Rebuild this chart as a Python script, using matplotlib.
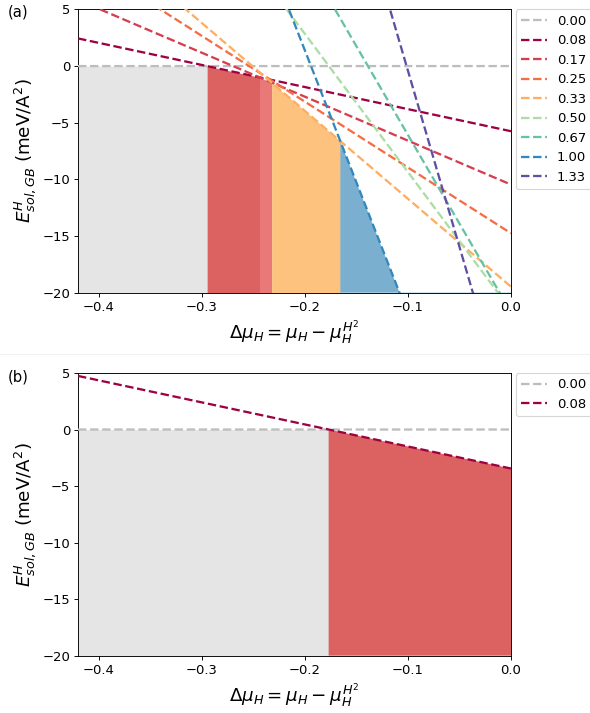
import matplotlib
matplotlib.use('Agg')
import matplotlib.pyplot as plt
import numpy as np

# coverage labels and line parameters E = intercept + slope * dmu
coverage = ['0.00', '0.08', '0.17', '0.25', '0.33', '0.50', '0.67', '1.00', '1.33']
intercept_a = [0.0, -5.75, -10.46, -14.76, -19.47, -21.55, -21.73, -45.2, -31.5]
slope_a = [0.0, -19.5, -38.8, -58.1, -77.6, -122.0, -156.6, -233.0, -311.0]

coverage_b = ['0.00', '0.08']
intercept_b = [0.0, -3.45]
slope_b = [0.0, -19.5]

line_colors = ['#bdbdbd', '#9e0142', '#d53e4f', '#f46d43', '#fdae61',
               '#abdda4', '#66c2a5', '#3288bd', '#5e4fa2']
fill_colors = ['#e5e5e5', '#dc6161', '#eb7878', '#f89a7a', '#fdc27d',
               '#cdebc8', '#a3dac9', '#7aafd0', '#9e95c7']

xmin, xmax = -0.42, 0.0
ymin, ymax = -20, 5


def panel(ax, labels, b, s):
    x = np.linspace(xmin, xmax, 3000)
    E = np.array([bi + si * x for bi, si in zip(b, s)])
    idx = E.argmin(axis=0)
    env = E.min(axis=0)
    for i, lab in enumerate(labels):
        mask = idx == i
        if not mask.any():
            continue
        mask = mask | np.roll(mask, 1)
        ax.fill_between(x, ymin, env, where=mask, color=fill_colors[i], lw=0, zorder=1)
    for i, lab in enumerate(labels):
        ax.plot(x, E[i], '--', color=line_colors[i], lw=2, label=lab, zorder=3)
    ax.set_xlim(xmin, xmax)
    ax.set_ylim(ymin, ymax)
    ax.set_xticks([-0.4, -0.3, -0.2, -0.1, 0.0])
    ax.set_yticks([5, 0, -5, -10, -15, -20])
    ax.tick_params(labelsize=11.5)
    ax.set_xlabel(r'$\Delta\mu_H = \mu_H - \mu_H^{H^2}$', fontsize=16)
    ax.set_ylabel(r'$E^{H}_{sol,GB}$ (meV/A$^2$)', fontsize=16)
    ax.legend(loc='upper left', bbox_to_anchor=(1.0107, 1.0), borderaxespad=0,
              fontsize=11.5, handletextpad=0.75)


dpi = 82
fig = plt.figure(figsize=(590 / dpi, 713 / dpi), dpi=dpi)
ax1 = fig.add_axes([0.1322, 0.5895, 0.7339, 0.3973])
ax2 = fig.add_axes([0.1322, 0.0804, 0.7339, 0.3965])

panel(ax1, coverage, intercept_a, slope_a)
panel(ax2, coverage_b, intercept_b, slope_b)

fig.text(8 / 590, 1 - 12 / 713, '(a)', fontsize=13, va='center')
fig.text(8 / 590, 1 - 377 / 713, '(b)', fontsize=13, va='center')
fig.add_artist(plt.Line2D([0, 1], [1 - 354 / 713] * 2, color='#f0f0f0', lw=0.8))

fig.savefig('out.png', dpi=dpi)
